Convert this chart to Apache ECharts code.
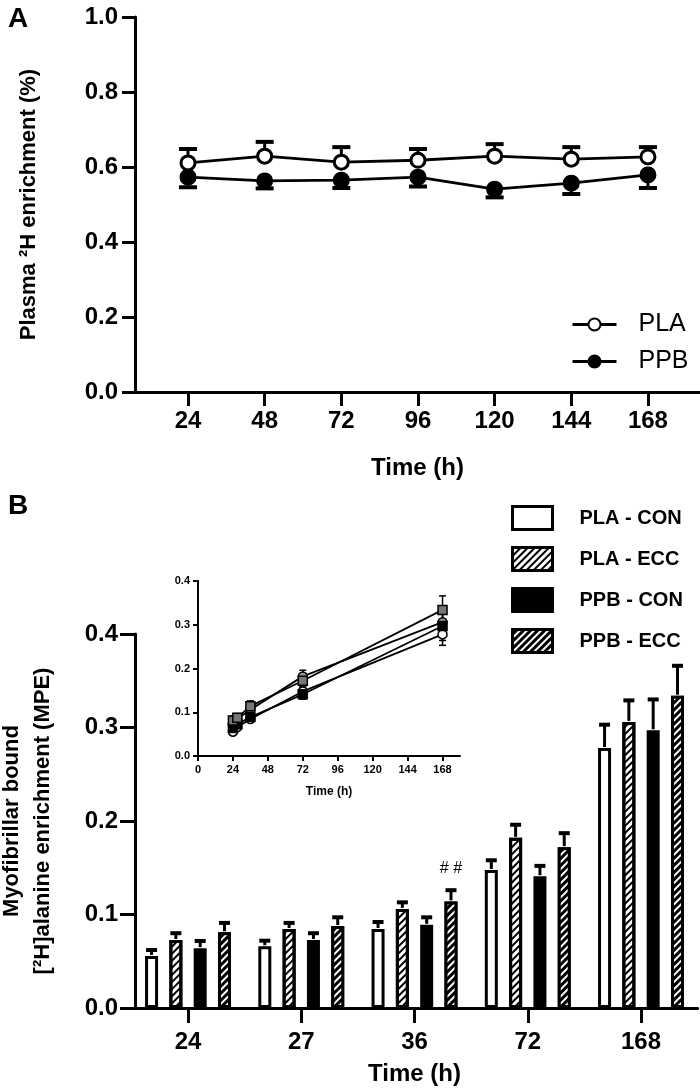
<!DOCTYPE html>
<html>
<head>
<meta charset="utf-8">
<script src="https://cdn.jsdelivr.net/npm/echarts@6.0.0/dist/echarts.min.js"></script>
<style>
html,body{margin:0;padding:0;background:#fff;}
#chart{width:700px;height:1089px;}
</style>
</head>
<body>
<div id="chart"></div>
<script>
// ---------- Panel A data ----------
const timesA = [24, 48, 72, 96, 120, 144, 168];
const plaMean = [0.611, 0.629, 0.613, 0.618, 0.629, 0.621, 0.627];
const plaSE   = [0.037, 0.038, 0.040, 0.030, 0.032, 0.032, 0.026];
const ppbMean = [0.573, 0.563, 0.565, 0.573, 0.541, 0.557, 0.579];
const ppbSE   = [0.027, 0.020, 0.021, 0.025, 0.022, 0.029, 0.035];

// ---------- Panel B data ----------
const categoriesB = ['24', '27', '36', '72', '168'];
const timesB = [24, 27, 36, 72, 168];
const seriesNamesB = ['PLA - CON', 'PLA - ECC', 'PPB - CON', 'PPB - ECC'];
const plaCon    = [0.0556, 0.066, 0.0845, 0.1476, 0.278];
const plaConErr = [0.0064, 0.006, 0.0075, 0.0104, 0.025];
const plaEcc    = [0.0727, 0.0845, 0.106, 0.182, 0.306];
const plaEccErr = [0.0073, 0.0065, 0.007, 0.014, 0.023];
const ppbCon    = [0.064, 0.0727, 0.089, 0.141, 0.297];
const ppbConErr = [0.0077, 0.0073, 0.008, 0.011, 0.033];
const ppbEcc    = [0.081, 0.0877, 0.114, 0.172, 0.334];
const ppbEccErr = [0.010, 0.0093, 0.012, 0.015, 0.032];
const annotationsB = ['', '', '# #', '', ''];   // above PPB - ECC bars
const insetTicksX = [0, 24, 48, 72, 96, 120, 144, 168];

// ---------- styles ----------
const FONT = "'Liberation Sans', Arial, Helvetica, sans-serif";
const BAR_W = 13, BAR_GAP = 0.87, BAR_STEP = BAR_W * (1 + BAR_GAP);
const meansB = [plaCon, plaEcc, ppbCon, ppbEcc];
const errsB = [plaConErr, plaEccErr, ppbConErr, ppbEccErr];

const decalLight = {symbol: 'rect', symbolSize: 1, color: '#000', dashArrayX: [1, 0], dashArrayY: [1.6, 2.6], rotation: -Math.PI / 4};
const decalDark  = {symbol: 'rect', symbolSize: 1, color: '#fff', dashArrayX: [1, 0], dashArrayY: [1.6, 2.6], rotation: -Math.PI / 4};
const barStyles = [
  {color: '#fff', borderColor: '#000', borderWidth: 3},
  {color: '#fff', borderColor: '#000', borderWidth: 3, decal: decalLight},
  {color: '#000', borderColor: '#000', borderWidth: 3},
  {color: '#000', borderColor: '#000', borderWidth: 3, decal: decalDark}
];

function errSeriesA(means, errs, dir) {
  return {
    type: 'custom', xAxisIndex: 0, yAxisIndex: 0, z: 1, silent: true,
    data: timesA.map((t, i) => [t, means[i], errs[i]]),
    renderItem: (params, api) => {
      const x = api.value(0), m = api.value(1), e = api.value(2);
      const p0 = api.coord([x, m]);
      const p1 = api.coord([x, m + dir * e]);
      return {type: 'group', children: [
        {type: 'line', shape: {x1: p0[0], y1: p0[1], x2: p1[0], y2: p1[1]}, style: {stroke: '#000', lineWidth: 3}},
        {type: 'line', shape: {x1: p1[0] - 9, y1: p1[1], x2: p1[0] + 9, y2: p1[1]}, style: {stroke: '#000', lineWidth: 4}}
      ]};
    }
  };
}

const errDataB = [];
meansB.forEach((arr, s) => arr.forEach((v, i) => errDataB.push([i, v, errsB[s][i], s])));

const errDataInset = [];
meansB.forEach((arr, s) => arr.forEach((v, i) => errDataInset.push([timesB[i], v, errsB[s][i]])));

const insetSymbols = [
  {symbol: 'circle', color: '#fff'},
  {symbol: 'circle', color: '#9a9a9a'},
  {symbol: 'rect', color: '#000'},
  {symbol: 'rect', color: '#777'}
];

const axisCommon = {
  axisLine: {show: true, lineStyle: {color: '#000', width: 3}},
  axisTick: {show: true, lineStyle: {color: '#000', width: 3}},
  splitLine: {show: false}
};

const option = {
  animation: false,
  backgroundColor: '#fff',
  textStyle: {fontFamily: FONT, color: '#000'},
  title: [
    {text: 'A', left: 3, top: 0, textStyle: {fontFamily: FONT, fontSize: 28, fontWeight: 'bold', color: '#000'}},
    {text: 'B', left: 3, top: 487, textStyle: {fontFamily: FONT, fontSize: 28, fontWeight: 'bold', color: '#000'}}
  ],
  legend: [
    {
      data: ['PLA', 'PPB'], orient: 'vertical', left: 566, top: 307,
      itemWidth: 44, itemHeight: 15, itemGap: 12,
      lineStyle: {width: 3, color: '#000'},
      textStyle: {fontFamily: FONT, fontSize: 25, color: '#000', lineHeight: 25, padding: [0, 0, 0, 17]}
    },
    {
      data: seriesNamesB, orient: 'vertical', left: 506, top: 500, icon: 'rect',
      itemWidth: 40, itemHeight: 23, itemGap: 15,
      itemStyle: {borderWidth: 3, borderColor: '#000'},
      textStyle: {fontFamily: FONT, fontSize: 20, fontWeight: 'bold', color: '#000', lineHeight: 23, padding: [0, 0, 0, 22]}
    }
  ],
  grid: [
    {left: 135, top: 17, width: 565, height: 375, containLabel: false, outerBoundsMode: 'none'},
    {left: 131.4, top: 634, width: 566.25, height: 374, containLabel: false, outerBoundsMode: 'none'},
    {left: 198, top: 581, width: 262, height: 175, containLabel: false, outerBoundsMode: 'none'}
  ],
  xAxis: [
    Object.assign({}, axisCommon, {
      gridIndex: 0, type: 'value', min: 7.4, max: 184.3,
      axisTick: {show: true, length: 14, customValues: timesA, lineStyle: {color: '#000', width: 3}},
      axisLabel: {customValues: timesA, fontFamily: FONT, fontSize: 24, fontWeight: 'bold', color: '#000', margin: 17},
      name: 'Time (h)', nameLocation: 'middle', nameGap: 64,
      nameTextStyle: {fontFamily: FONT, fontSize: 24, fontWeight: 'bold', color: '#000'}
    }),
    Object.assign({}, axisCommon, {
      gridIndex: 1, type: 'category', data: categoriesB,
      axisTick: {show: true, length: 15, alignWithLabel: true, lineStyle: {color: '#000', width: 3}},
      axisLabel: {fontFamily: FONT, fontSize: 24, fontWeight: 'bold', color: '#000', margin: 22},
      name: 'Time (h)', nameLocation: 'middle', nameGap: 54,
      nameTextStyle: {fontFamily: FONT, fontSize: 24, fontWeight: 'bold', color: '#000'}
    }),
    {
      gridIndex: 2, type: 'value', min: 0, max: 180,
      axisLine: {show: true, lineStyle: {color: '#000', width: 2}},
      axisTick: {show: true, length: 5, customValues: insetTicksX, lineStyle: {color: '#000', width: 2}},
      axisLabel: {customValues: insetTicksX, fontFamily: FONT, fontSize: 11, fontWeight: 'bold', color: '#000', margin: 8},
      splitLine: {show: false},
      name: 'Time (h)', nameLocation: 'middle', nameGap: 30,
      nameTextStyle: {fontFamily: FONT, fontSize: 12, fontWeight: 'bold', color: '#000'}
    }
  ],
  yAxis: [
    Object.assign({}, axisCommon, {
      gridIndex: 0, type: 'value', min: 0, max: 1, interval: 0.2,
      axisTick: {show: true, length: 13, lineStyle: {color: '#000', width: 3}},
      axisLabel: {fontFamily: FONT, fontSize: 24, fontWeight: 'bold', color: '#000', margin: 17, formatter: v => v.toFixed(1)},
      name: 'Plasma ²H enrichment (%)', nameLocation: 'middle', nameGap: 95, nameRotate: 90,
      nameTextStyle: {fontFamily: FONT, fontSize: 22, fontWeight: 'bold', color: '#000'}
    }),
    Object.assign({}, axisCommon, {
      gridIndex: 1, type: 'value', min: 0, max: 0.4, interval: 0.1, offset: -3.6,
      axisTick: {show: true, length: 15, lineStyle: {color: '#000', width: 3}},
      axisLabel: {fontFamily: FONT, fontSize: 24, fontWeight: 'bold', color: '#000', margin: 17, formatter: v => v.toFixed(1)},
      name: 'Myofibrillar bound\n[²H]alanine enrichment (MPE)', nameLocation: 'middle', nameGap: 77, nameRotate: 90,
      nameTextStyle: {fontFamily: FONT, fontSize: 22, fontWeight: 'bold', color: '#000', lineHeight: 31}
    }),
    {
      gridIndex: 2, type: 'value', min: 0, max: 0.4, interval: 0.1,
      axisLine: {show: true, lineStyle: {color: '#000', width: 2}},
      axisTick: {show: true, length: 5, lineStyle: {color: '#000', width: 2}},
      axisLabel: {fontFamily: FONT, fontSize: 11, fontWeight: 'bold', color: '#000', margin: 8, formatter: v => v.toFixed(1)},
      splitLine: {show: false}
    }
  ],
  series: [
    errSeriesA(plaMean, plaSE, 1),
    errSeriesA(ppbMean, ppbSE, -1),
    {
      name: 'PLA', type: 'line', xAxisIndex: 0, yAxisIndex: 0, z: 3,
      data: timesA.map((t, i) => [t, plaMean[i]]),
      symbol: 'circle', symbolSize: 14,
      itemStyle: {color: '#fff', borderColor: '#000', borderWidth: 3},
      lineStyle: {color: '#000', width: 3}
    },
    {
      name: 'PPB', type: 'line', xAxisIndex: 0, yAxisIndex: 0, z: 3,
      data: timesA.map((t, i) => [t, ppbMean[i]]),
      symbol: 'circle', symbolSize: 14,
      itemStyle: {color: '#000', borderColor: '#000', borderWidth: 3},
      lineStyle: {color: '#000', width: 3}
    },
    ...seriesNamesB.map((name, s) => ({
      name: name, type: 'bar', xAxisIndex: 1, yAxisIndex: 1, z: 2,
      barWidth: BAR_W, barGap: (BAR_GAP * 100) + '%',
      itemStyle: barStyles[s],
      data: meansB[s].map((v, i) => (s === 3 && annotationsB[i]) ? {
        value: v,
        label: {show: true, position: 'top', distance: 25, formatter: annotationsB[i],
                fontFamily: FONT, fontSize: 16, color: '#000'}
      } : v)
    })),
    {
      type: 'custom', xAxisIndex: 1, yAxisIndex: 1, z: 4, silent: true,
      data: errDataB,
      renderItem: (params, api) => {
        const c = api.coord([api.value(0), api.value(1)]);
        const t = api.coord([api.value(0), api.value(1) + api.value(2)]);
        const x = c[0] + (api.value(3) - 1.5) * BAR_STEP;
        return {type: 'group', children: [
          {type: 'line', shape: {x1: x, y1: c[1] - 1, x2: x, y2: t[1]}, style: {stroke: '#000', lineWidth: 3}},
          {type: 'line', shape: {x1: x - 5.5, y1: t[1], x2: x + 5.5, y2: t[1]}, style: {stroke: '#000', lineWidth: 4}}
        ]};
      }
    },
    {
      type: 'custom', xAxisIndex: 2, yAxisIndex: 2, z: 5, silent: true,
      data: errDataInset,
      renderItem: (params, api) => {
        const x = api.value(0), m = api.value(1), e = api.value(2);
        const lo = api.coord([x, m - e]), hi = api.coord([x, m + e]);
        return {type: 'group', children: [
          {type: 'line', shape: {x1: lo[0], y1: lo[1], x2: hi[0], y2: hi[1]}, style: {stroke: '#000', lineWidth: 1.5}},
          {type: 'line', shape: {x1: lo[0] - 3.5, y1: lo[1], x2: lo[0] + 3.5, y2: lo[1]}, style: {stroke: '#000', lineWidth: 1.5}},
          {type: 'line', shape: {x1: hi[0] - 3.5, y1: hi[1], x2: hi[0] + 3.5, y2: hi[1]}, style: {stroke: '#000', lineWidth: 1.5}}
        ]};
      }
    },
    ...seriesNamesB.map((name, s) => ({
      name: 'inset ' + name, type: 'line', xAxisIndex: 2, yAxisIndex: 2, z: 6,
      data: timesB.map((t, i) => [t, meansB[s][i]]),
      symbol: insetSymbols[s].symbol, symbolSize: 9,
      itemStyle: {color: insetSymbols[s].color, borderColor: '#000', borderWidth: 1.5},
      lineStyle: {color: '#000', width: 1.8}
    }))
  ]
};

const chart = echarts.init(document.getElementById('chart'), null, {renderer: 'canvas'});
chart.setOption(option);
</script>
</body>
</html>
